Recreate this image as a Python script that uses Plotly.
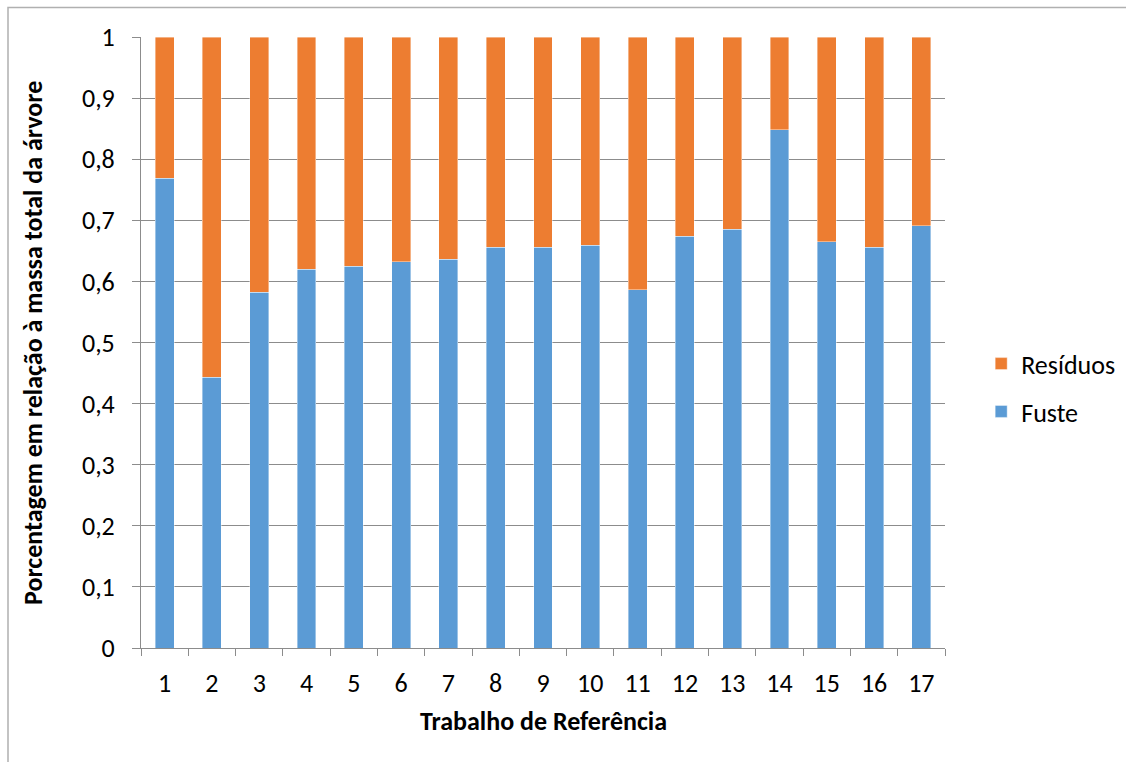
import plotly.graph_objects as go

# Reference works 1..17 and the share of total tree mass in each part
trabalhos = [str(i) for i in range(1, 18)]
fuste = [0.769, 0.443, 0.582, 0.620, 0.625, 0.632, 0.636, 0.656, 0.656,
         0.659, 0.586, 0.674, 0.685, 0.848, 0.665, 0.656, 0.691]
residuos = [0.231, 0.557, 0.418, 0.380, 0.375, 0.368, 0.364, 0.344, 0.344,
            0.341, 0.414, 0.326, 0.315, 0.152, 0.335, 0.344, 0.309]

y_ticks = [0, 0.1, 0.2, 0.3, 0.4, 0.5, 0.6, 0.7, 0.8, 0.9, 1]
y_tick_text = ["0", "0,1", "0,2", "0,3", "0,4", "0,5", "0,6", "0,7", "0,8", "0,9", "1"]

FONT = "Carlito, Lato, Open Sans, sans-serif"
FS = 26
GRID = "#8c8c8c"

fig = go.Figure()
fig.add_trace(go.Bar(
    x=trabalhos, y=fuste, name="Fuste", legendgroup="f", legendrank=2,
    marker=dict(color="#5B9BD5", line=dict(color="rgba(255,255,255,0.5)", width=0.8)),
))
fig.add_trace(go.Bar(
    x=trabalhos, y=residuos, name="Resíduos", legendgroup="r", legendrank=1,
    marker=dict(color="#ED7D31", line=dict(color="rgba(255,255,255,0.5)", width=0.8)),
))

fig.update_layout(
    width=1126, height=762,
    barmode="stack", bargap=0.6,
    plot_bgcolor="white", paper_bgcolor="white",
    margin=dict(l=141, r=181, t=37, b=114, autoexpand=False),
    font=dict(family=FONT, size=FS, color="#000000"),
    legend=dict(
        x=1.045, y=0.426, xanchor="left", yanchor="middle",
        traceorder="grouped", tracegroupgap=11,
        font=dict(family=FONT, size=FS),
        bgcolor="rgba(0,0,0,0)",
    ),
    showlegend=True,
)

fig.update_xaxes(
    type="category", tickson="boundaries",
    ticks="outside", ticklen=7, tickcolor=GRID,
    showline=True, linecolor=GRID, linewidth=1,
    showgrid=False, ticklabelstandoff=12,
    tickfont=dict(family=FONT, size=FS),
)
fig.update_yaxes(
    range=[0, 1], tickvals=y_ticks, ticktext=y_tick_text,
    ticks="outside", ticklen=8, tickcolor=GRID,
    showline=True, linecolor=GRID, linewidth=1,
    showgrid=True, gridcolor=GRID, gridwidth=1,
    zeroline=False, ticklabelstandoff=12,
    tickfont=dict(family=FONT, size=FS),
)

# Axis titles
fig.add_annotation(
    text="<b>Trabalho de Referência</b>", xref="paper", yref="paper",
    x=(543 - 141) / 804, y=(648 - 721) / 611, xanchor="center", yanchor="middle",
    showarrow=False, font=dict(family=FONT, size=FS),
)
fig.add_annotation(
    text="<b>Porcentagem em relação à massa total da árvore</b>",
    xref="paper", yref="paper", textangle=-90,
    x=(33 - 141) / 804, y=(648 - 343) / 611, xanchor="center", yanchor="middle",
    showarrow=False, font=dict(family=FONT, size=FS),
)

# Chart frame
fig.add_shape(
    type="rect", xref="paper", yref="paper",
    x0=(8 - 141) / 804, x1=(1140 - 141) / 804,
    y0=(648 - 770) / 611, y1=(648 - 7.5) / 611,
    line=dict(color="#b0b0b0", width=1.5), fillcolor="rgba(0,0,0,0)", layer="below",
)

fig.write_html("out.html")
